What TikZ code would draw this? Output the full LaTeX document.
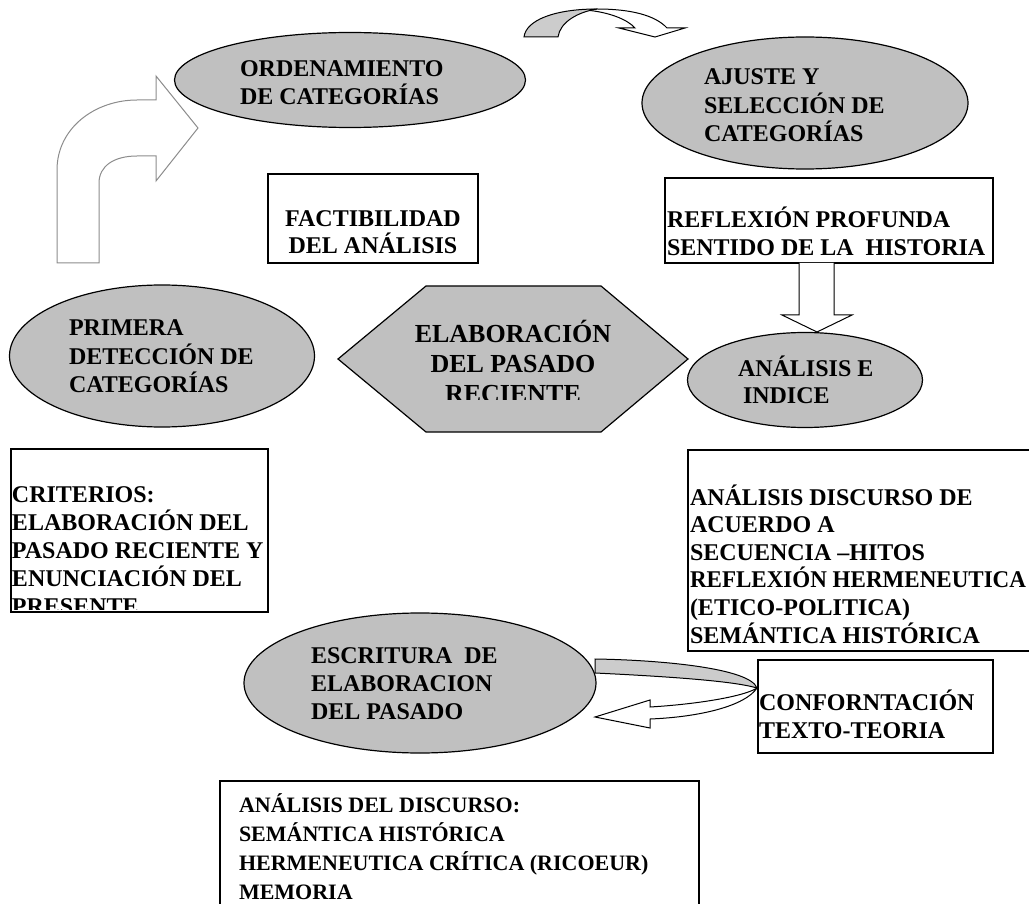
\documentclass[tikz,border=0pt]{standalone}
\usepackage{fontspec}
\setmainfont{Liberation Serif}
\usetikzlibrary{shapes.geometric}

% multi-line text blocks whose reference point is the first baseline
\newcommand\ltxt[1]{\parbox[t]{420pt}{\raggedright #1}}
\newcommand\ctxt[1]{\parbox[t]{300pt}{\centering #1}}

\definecolor{shade}{RGB}{192,192,192}
\definecolor{bandgray}{RGB}{204,204,204}
\definecolor{outlinegray}{RGB}{140,140,140}

\tikzset{
  oval/.style={ellipse, draw=black, line width=1.2pt, fill=shade, inner sep=0pt},
  box/.style={rectangle, draw=black, line width=1.2pt, fill=white, inner sep=0pt},
  lbl/.style={inner sep=0pt, outer sep=0pt, font=\bfseries\fontsize{24}{28}\selectfont},
  biglbl/.style={inner sep=0pt, outer sep=0pt, font=\bfseries\fontsize{26}{30}\selectfont},
  smalllbl/.style={inner sep=0pt, outer sep=0pt, font=\bfseries\fontsize{22}{29.3}\selectfont},
  blockarrow/.style={draw=black, line width=1pt, line join=miter},
  hollowarrow/.style={draw=outlinegray, line width=1pt, fill=white, line join=miter},
}

\begin{document}
\begin{tikzpicture}[x=1pt, y=-1pt]
\useasboundingbox (0,0) rectangle (1029,904);

% ---------- shapes ----------
\node[oval, minimum width=351, minimum height=95] (ord) at (350,80) {};
\node[oval, minimum width=326, minimum height=132] (ajus) at (805,103) {};
\node[oval, minimum width=305, minimum height=142] (prim) at (162,356) {};
\node[oval, minimum width=235, minimum height=95] (anal) at (805,380) {};
\node[oval, minimum width=352, minimum height=140] (escr) at (420,683) {};

\draw[draw=black, line width=1.2pt, fill=shade]
  (338,359) -- (426,286) -- (601,286) -- (688,359) -- (601,432) -- (426,432) -- cycle;
\coordinate (hex) at (513,359);

\node[box, minimum width=210, minimum height=89] (fact) at (373,218.5) {};
\node[box, minimum width=328, minimum height=85] (refl) at (829,220.5) {};
\node[box, minimum width=257, minimum height=163] (crit) at (139.5,530.5) {};
\node[box, minimum width=352, minimum height=201] (disc) at (864,550.5) {};
\node[box, minimum width=235, minimum height=93] (conf) at (875.5,706.5) {};
\node[box, minimum width=479, minimum height=134] (memo) at (459.5,848) {};

% ---------- block arrows ----------
% bent arrow: up, then right towards the first ellipse
\draw[hollowarrow]
  (57,263) -- (57,170) .. controls (57,128) and (95,100) .. (137,100)
  -- (156,100) -- (156,76) -- (198,128) -- (156,181) -- (156,156) -- (137,156)
  .. controls (114,156) and (99,166) .. (99,183) -- (99,263) -- cycle;

% curved arrow over the top, from the first ellipse to the second
\draw[blockarrow, fill=white]
  (585,10) .. controls (610,12) and (628,20) .. (635,28) -- (619,28) -- (655,37)
  -- (685,28) -- (667,28) .. controls (655,15) and (630,9) .. (597,9) -- cycle;
\draw[blockarrow, fill=bandgray]
  (524,37) .. controls (526,20) and (555,9) .. (597,9)
  .. controls (578,12) and (560,22) .. (558,37) -- cycle;

% straight arrow down from the reflection box
\draw[blockarrow, fill=white]
  (799,263) -- (799,315) -- (782,315) -- (817,332) -- (852,315) -- (834,315) -- (834,263);

% curved return arrow beside the writing ellipse
\draw[blockarrow, fill=bandgray]
  (595,659) .. controls (660,660) and (750,668) .. (757,688)
  .. controls (740,683) and (700,678) .. (595,673) -- cycle;
\draw[blockarrow, fill=white]
  (757,688) .. controls (745,696) and (700,704) .. (650,707) -- (650,700) -- (595,717)
  -- (650,728) -- (650,719) .. controls (700,717) and (745,706) .. (757,688) -- cycle;

% ---------- texts ----------
\node[lbl, anchor=base west] (tord) at (240,77) {\ltxt{ORDENAMIENTO\\DE CATEGORÍAS}};
\node[lbl, anchor=base west] (tajus) at (704,85) {\ltxt{\fontsize{24}{28.5}\selectfont AJUSTE Y\\SELECCIÓN DE\\CATEGORÍAS}};
\node[lbl, anchor=base] (tfact) at (373,227) {\ctxt{\fontsize{24}{27}\selectfont FACTIBILIDAD\\DEL ANÁLISIS}};
\node[lbl, anchor=base west] (trefl) at (667,228) {\ltxt{REFLEXIÓN PROFUNDA\\SENTIDO DE LA\ \ HISTORIA}};
\node[lbl, anchor=base west] (tprim) at (69,336) {\ltxt{\fontsize{24}{28.5}\selectfont PRIMERA\\DETECCIÓN DE\\CATEGORÍAS}};
\begin{scope}
  \clip (330,280) rectangle (700,399);
  \node[biglbl, anchor=base] (thex) at (513,342) {\ctxt{ELABORACIÓN\\DEL PASADO\\RECIENTE}};
\end{scope}
\node[lbl, anchor=base west] (tanal) at (738,377) {\ltxt{\fontsize{24}{27}\selectfont ANÁLISIS E\\\hspace*{5pt}INDICE}};
\begin{scope}
  \clip (0,440) rectangle (280,609);
  \node[lbl, anchor=base west] (tcrit) at (12,502) {\ltxt{CRITERIOS:\\ELABORACIÓN DEL\\PASADO RECIENTE Y\\ENUNCIACIÓN DEL\\PRESENTE}};
\end{scope}
\node[box, fill=none, draw=black, minimum width=257, minimum height=163] at (crit.center) {};
\node[lbl, anchor=base west] (tdisc) at (690,505) {\ltxt{\fontsize{24}{27.6}\selectfont ANÁLISIS DISCURSO DE\\ACUERDO A\\SECUENCIA –HITOS\\\scalebox{0.96}[1]{REFLEXIÓN HERMENEUTICA}\\(ETICO-POLITICA)\\SEMÁNTICA HISTÓRICA}};
\node[lbl, anchor=base west] (tescr) at (311,663) {\ltxt{ESCRITURA\ \ DE\\ELABORACION\\DEL PASADO}};
\node[lbl, anchor=base west] (tconf) at (759,710) {\ltxt{CONFORNTACIÓN\\TEXTO-TEORIA}};
\node[smalllbl, anchor=base west] (tmemo) at (239,812) {\ltxt{ANÁLISIS DEL DISCURSO:\\SEMÁNTICA HISTÓRICA\\HERMENEUTICA CRÍTICA (RICOEUR)\\MEMORIA}};

\end{tikzpicture}
\end{document}
